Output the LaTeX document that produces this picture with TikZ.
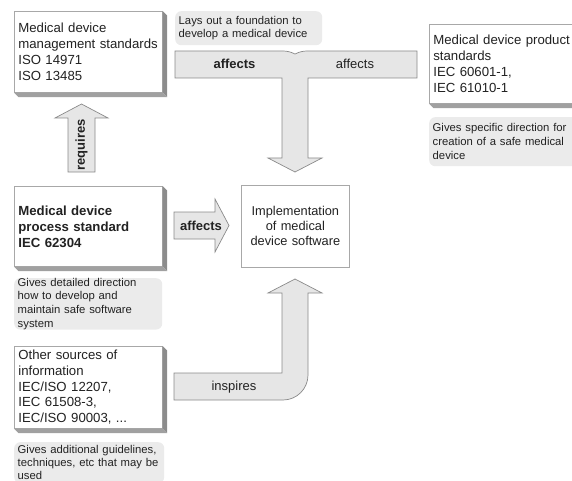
\documentclass[tikz,border=0pt]{standalone}
\usepackage{fontspec}
\setmainfont{Liberation Sans}
\usetikzlibrary{calc}

\definecolor{boxline}{HTML}{A8A8A8}
\definecolor{sideface}{HTML}{8C8C8C}
\definecolor{bottomface}{HTML}{A0A0A0}
\definecolor{notefill}{HTML}{EBEBEB}
\definecolor{arrowfill}{HTML}{E6E6E6}
\definecolor{arrowline}{HTML}{8A8A8A}
\definecolor{ink}{HTML}{222222}

\tikzset{
  stdbox/.style={draw=boxline, fill=white, line width=0.7pt, anchor=north west,
    align=left, inner xsep=4pt, inner ysep=0pt,
    font=\fontsize{13.2}{16}\selectfont, text=ink},
  note/.style={fill=notefill, rounded corners=6pt, anchor=north west, align=left,
    inner xsep=3.5pt, inner ysep=0pt, font=\fontsize{11.3}{13.4}\selectfont, text=ink},
  blockarrow/.style={fill=arrowfill, draw=arrowline, line width=0.7pt, line join=miter},
  arrowlabel/.style={font=\fontsize{13}{15}\selectfont, text=ink, inner sep=0pt},
  boldlabel/.style={font=\fontsize{13}{15}\selectfont\bfseries, text=ink, inner sep=0pt},
}

% raised slab look: right and bottom faces behind a box node
\newcommand\slabsides[1]{%
  \fill[sideface] (#1.north east) -- ++(4.5,4.5) -- ($(#1.south east)+(4.5,4.5)$) -- (#1.south east) -- cycle;
  \fill[bottomface] (#1.south west) -- ++(4.5,4.5) -- ($(#1.south east)+(4.5,4.5)$) -- (#1.south east) -- cycle;
}

\begin{document}
\begin{tikzpicture}[x=1pt,y=-1pt]
\useasboundingbox (0,0) rectangle (572,481);
\clip (0,0) rectangle (572,481);

% standards boxes
\node[stdbox, text width=140pt, minimum height=81pt] (mgmt) at (14,11)
  {Medical device\\management standards\\ISO 14971\\ISO 13485};
\slabsides{mgmt}

\node[stdbox, text width=170pt, minimum height=79pt] (prod) at (429,24)
  {Medical device product\\standards\\IEC 60601-1,\\IEC 61010-1};
\slabsides{prod}

\node[stdbox, text width=140pt, minimum height=80pt, font=\fontsize{13.2}{16}\selectfont\bfseries] (proc) at (14,186)
  {Medical device\\process standard\\IEC 62304};
\slabsides{proc}

\node[stdbox, text width=140pt, minimum height=82pt, font=\fontsize{13.2}{15.7}\selectfont] (other) at (14,346)
  {Other sources of\\information\\IEC/ISO 12207,\\IEC 61508-3,\\IEC/ISO 90003, ...};
\slabsides{other}

\node[stdbox, align=center, text width=100pt, minimum height=82pt, font=\fontsize{12.8}{15}\selectfont] (impl) at (241,185)
  {Implementation\\of medical\\device software};

% explanatory notes
\node[note, text width=140pt, minimum height=34pt] (foundnote) at (175,11)
  {Lays out a foundation to\\develop a medical device};
\node[note, text width=160pt, minimum height=49pt, font=\fontsize{11.3}{14}\selectfont] (prodnote) at (429,117)
  {Gives specific direction for\\creation of a safe medical\\device};
\node[note, text width=141pt, minimum height=49pt, font=\fontsize{11.3}{13.6}\selectfont] (procnote) at (14,278)
  {Gives detailed direction\\how to develop and\\maintain safe software\\system};
\node[note, text width=143pt, minimum height=41pt, font=\fontsize{11.3}{13.1}\selectfont] (othernote) at (14,442)
  {Gives additional guidelines,\\techniques, etc that may be\\used};

% merging arrows from the top into the implementation box
\draw[blockarrow] (175,78) -- (175,51) -- (283,51)
  arc[start angle=-90, end angle=-61.3, radius=25]
  arc[start angle=-118.7, end angle=-90, radius=25]
  -- (417,51) -- (417,78) -- (308,78) -- (308,158) -- (322,158)
  -- (295,172) -- (268,158) -- (282,158) -- (282,78) -- cycle;
\node[boldlabel] (affA) at (234.5,64) {affects};
\node[arrowlabel] (affB) at (355,64) {affects};

% bent arrow from below
\draw[blockarrow] (174,373) -- (282,373) -- (282,293) -- (268,293)
  -- (295,279) -- (322,293) -- (308,293) -- (308,375)
  arc[start angle=0, end angle=90, radius=25] -- (174,400) -- cycle;
\node[arrowlabel] (insp) at (234,387) {inspires};

% process standard requires management standards
\draw[blockarrow] (68,172) -- (68,118) -- (55,118) -- (81.5,104) -- (108,118)
  -- (95,118) -- (95,172) -- cycle;
\node[boldlabel, rotate=90] (req) at (81.5,145) {requires};

% process standard affects implementation
\draw[blockarrow] (174,212) -- (215,212) -- (215,199) -- (229,225.5)
  -- (215,252) -- (215,239) -- (174,239) -- cycle;
\node[boldlabel] (affC) at (201,226) {affects};
\end{tikzpicture}
\end{document}
